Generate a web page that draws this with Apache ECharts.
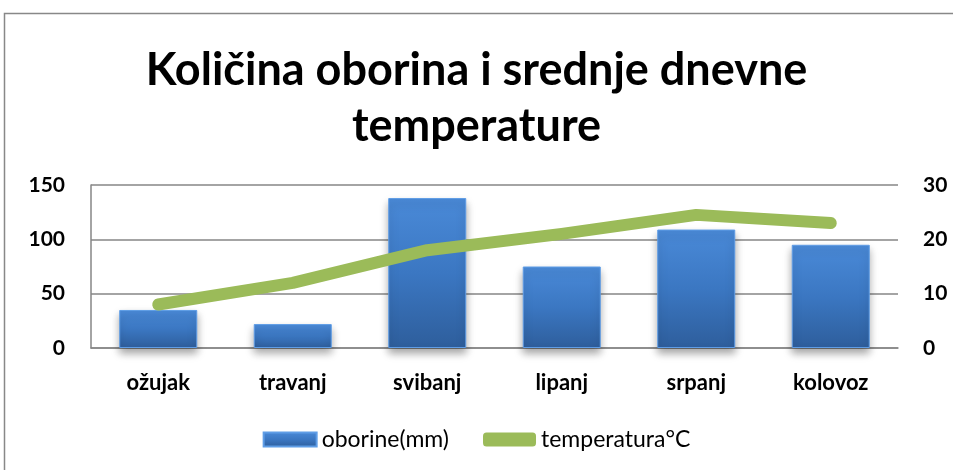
<!DOCTYPE html>
<html>
<head>
<meta charset="utf-8">
<script src="https://cdn.jsdelivr.net/npm/echarts@6/dist/echarts.min.js"></script>
<style>
  html, body { margin: 0; padding: 0; background: #fff; }
  #main { width: 953px; height: 470px; }
</style>
</head>
<body>
<div id="main"></div>
<script>
var months = ['ožujak', 'travanj', 'svibanj', 'lipanj', 'srpanj', 'kolovoz'];
var oborine = [35, 22, 138, 75, 109, 95];
var temperatura = [8, 12, 18, 21, 24.5, 23];
var leftTicks = { min: 0, max: 150, interval: 50 };
var rightTicks = { min: 0, max: 30, interval: 10 };

var myChart = echarts.init(document.getElementById('main'));

var font = 'Lato, "Open Sans", sans-serif';

var option = {
    animation: false,
    textStyle: { fontFamily: font },
    title: {
        text: 'Količina oborina i srednje dnevne\ntemperature',
        left: 'center',
        top: 37,
        textStyle: {
            fontFamily: font,
            fontSize: 45,
            fontWeight: 'bold',
            color: '#000',
            lineHeight: 56
        }
    },
    graphic: [{
        type: 'rect',
        shape: { x: 4.5, y: 13.5, width: 1000, height: 500 },
        style: { fill: 'none', stroke: '#888', lineWidth: 1.5 },
        silent: true
    }],
    legend: {
        bottom: 14,
        left: 'center',
        itemWidth: 53,
        itemHeight: 14,
        itemGap: 34,
        textStyle: { fontFamily: font, fontSize: 23, color: '#000' },
        data: [
            { name: 'oborine(mm)', icon: 'rect' },
            { name: 'temperatura°C', icon: 'roundRect' }
        ]
    },
    grid: { left: 91, right: 55, top: 185, bottom: 122 },
    xAxis: {
        type: 'category',
        data: months,
        axisLine: { lineStyle: { color: '#868686', width: 1.5 } },
        axisTick: { show: false },
        axisLabel: { color: '#000', fontSize: 22, fontWeight: 'bold', margin: 24, fontFamily: font }
    },
    yAxis: [{
        type: 'value',
        min: leftTicks.min,
        max: leftTicks.max,
        interval: leftTicks.interval,
        axisLine: { show: true, lineStyle: { color: '#868686', width: 1.5 } },
        axisTick: { show: false },
        splitLine: { lineStyle: { color: '#868686', width: 1.5 } },
        axisLabel: { color: '#000', fontSize: 21, fontWeight: 'bold', margin: 26, fontFamily: font }
    }, {
        type: 'value',
        min: rightTicks.min,
        max: rightTicks.max,
        interval: rightTicks.interval,
        axisLine: { show: false },
        axisTick: { show: false },
        splitLine: { show: false },
        axisLabel: { color: '#000', fontSize: 21, fontWeight: 'bold', margin: 25, fontFamily: font }
    }],
    series: [{
        name: 'oborine(mm)',
        type: 'bar',
        data: oborine,
        barWidth: '58%',
        itemStyle: {
            color: new echarts.graphic.LinearGradient(0, 0, 0, 1, [
                { offset: 0, color: '#4a8ad8' },
                { offset: 0.5, color: '#3b77c2' },
                { offset: 1, color: '#2e5e9c' }
            ]),
            borderColor: '#5f9de6',
            borderWidth: 1,
            shadowColor: 'rgba(0,0,0,0.35)',
            shadowBlur: 8,
            shadowOffsetY: 5
        }
    }, {
        name: 'temperatura°C',
        type: 'line',
        yAxisIndex: 1,
        data: temperatura,
        symbol: 'none',
        lineStyle: { color: '#9bbb59', width: 12, cap: 'round', join: 'round' },
        itemStyle: { color: '#9bbb59' }
    }]
};

myChart.setOption(option);
</script>
</body>
</html>
